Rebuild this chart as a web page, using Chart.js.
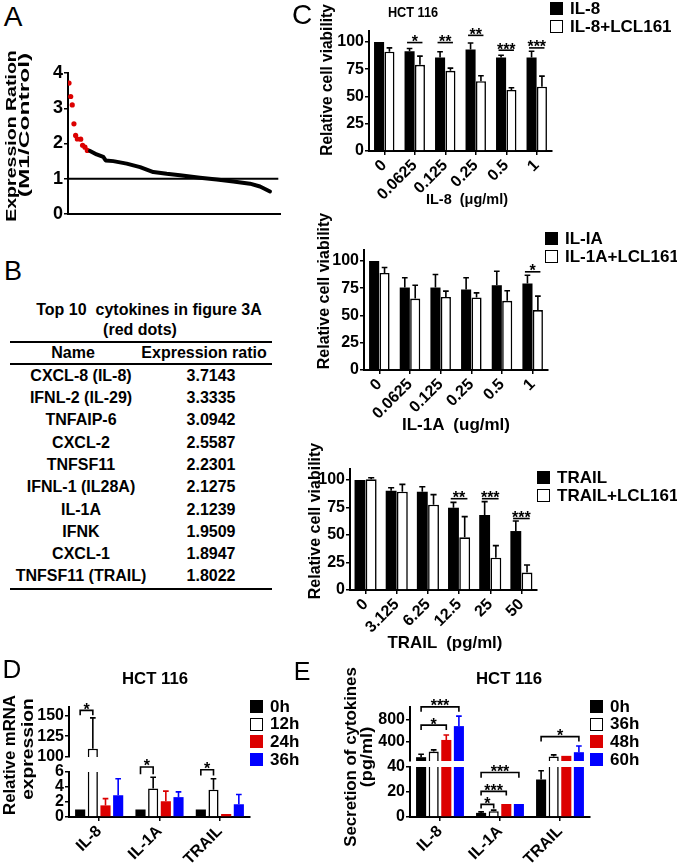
<!DOCTYPE html>
<html>
<head>
<meta charset="utf-8">
<title>Figure 3</title>
<script src="https://cdn.jsdelivr.net/npm/chart.js@4.4.1/dist/chart.umd.min.js"></script>
<style>
  html, body { margin: 0; padding: 0; background: #fff; }
  body { position: relative; width: 677px; height: 866px; overflow: hidden;
         font-family: "Liberation Sans", Arial, sans-serif; font-weight: bold; color: #000; }
  canvas, .tx, .sq, .rule { position: absolute; }
  .tx { white-space: pre; line-height: 1.15; }
  .sq { width: 13px; height: 13px; box-sizing: border-box; }
  .rule { left: 10px; width: 262px; height: 2px; background: #000; }
</style>
</head>
<body>
<script>
"use strict";

// ---- panel A / B: ranked expression ratios ----
var topNames = ["CXCL-8 (IL-8)", "IFNL-2 (IL-29)", "TNFAIP-6", "CXCL-2", "TNFSF11",
    "IFNL-1 (IL28A)", "IL-1A", "IFNK", "CXCL-1", "TNFSF11 (TRAIL)"];
var topRatios = [3.7143, 3.3335, 3.0942, 2.5587, 2.2301, 2.1275, 2.1239, 1.9509, 1.8947, 1.8022];
var topRanks = [0.6, 1.6, 2.5, 3.5, 4.5, 5.5, 7.5, 8.6, 10, 11.4];
var curveRanks = [13, 16.9, 20.8, 22.2, 26.7, 34.6, 42.5, 46.4, 50.3, 58.2, 66, 77.8, 87.7, 97.5, 107.3, 113.2, 119.1];
var curveRatios = [1.79, 1.69, 1.62, 1.52, 1.5, 1.43, 1.33, 1.26, 1.19, 1.14, 1.1, 1.03, 0.98, 0.92, 0.86, 0.78, 0.64];
var cutoffRatio = 1;
var ratioTicks = [0, 1, 2, 3, 4];

// ---- panel C: cell viability ----
var viabilityTicks = [0, 25, 50, 75, 100];
var il8Doses = ["0", "0.0625", "0.125", "0.25", "0.5", "1"];
var il8Names = ["IL-8", "IL-8+LCL161"];
var il8Alone = [100, 91.5, 85.7, 93, 85.7, 85.7];
var il8AloneErr = [0, 2.5, 5.3, 6, 2.1, 5.8];
var il8Combo = [91, 79, 73.5, 64, 56, 59];
var il8ComboErr = [3.5, 8, 2.5, 5, 2, 9.6];
var il8Sig = [{ cat: 1, y: 99.4, text: "*" }, { cat: 2, y: 99.4, text: "**" }, { cat: 3, y: 106, text: "**" },
    { cat: 4, y: 92.4, text: "***" }, { cat: 5, y: 94.5, text: "***" }];

var il1aDoses = ["0", "0.0625", "0.125", "0.25", "0.5", "1"];
var il1aNames = ["IL-IA", "IL-1A+LCL161"];
var il1aAlone = [100, 75.6, 75.6, 73.8, 77.7, 79.3];
var il1aAloneErr = [0, 8.9, 11.9, 10.7, 12.8, 7.6];
var il1aCombo = [89, 65.5, 67, 66.5, 63.4, 54.9];
var il1aComboErr = [5, 12.2, 5.3, 4.2, 9.2, 12.8];
var il1aSig = [{ cat: 5, y: 90, text: "*" }];

var trailDoses = ["0", "3.125", "6.25", "12.5", "25", "50"];
var trailNames = ["TRAIL", "TRAIL+LCL161"];
var trailAlone = [100, 90.3, 89.4, 74.8, 68.2, 53.6];
var trailAloneErr = [0, 2.7, 4.5, 4.9, 12.1, 9.1];
var trailCombo = [100.6, 89.4, 77.6, 47.9, 29.4, 15.8];
var trailComboErr = [1.4, 6.6, 9.1, 18.8, 10.9, 6.9];
var trailSig = [{ cat: 3, y: 83, text: "**" }, { cat: 4, y: 83, text: "***" }, { cat: 5, y: 65, text: "***" }];

// ---- panel D: mRNA ----
var geneLabels = ["IL-8", "IL-1A", "TRAIL"];
var mrnaTimes = ["0h", "12h", "24h", "36h"];
var mrna0h = [1, 1, 1];
var mrna0hErr = [0, 0, 0];
var mrna12h = [110, 3.8, 3.65];
var mrna12hErr = [37, 1.5, 1.45];
var mrna24h = [1.55, 2.1, 0.4];
var mrna24hErr = [0.9, 1.35, 0];
var mrna36h = [2.9, 2.65, 1.7];
var mrna36hErr = [2.2, 0.7, 1.3];
var mrnaUpperTicks = [100, 125, 150];
var mrnaLowerTicks = [0, 2, 4, 6];
var mrnaSigUpper = [{ cat: 0, from: 0, to: 1, y: 156, leg: 150, text: "*" }];
var mrnaSigLower = [{ cat: 1, from: 0, to: 1, y: 6.67, leg: 5.7, text: "*" },
    { cat: 2, from: 0, to: 1, y: 6.3, leg: 5.55, text: "*" }];

// ---- panel E: secretion ----
var secTimes = ["0h", "36h", "48h", "60h"];
var sec0h = [119, 3.3, 30];
var sec0hErr = [54, 0.8, 7];
var sec36h = [221, 4.7, 131];
var sec36hErr = [30, 0.8, 30];
var sec48h = [430, 10.4, 143];
var sec48hErr = [89, 0, 0];
var sec60h = [680, 10.4, 209];
var sec60hErr = [180, 0, 113];
var secUpperTicks = [400, 800];
var secLowerTicks = [0, 20, 40];
var secSigUpper = [{ cat: 0, from: 0, to: 2, y: 698, leg: 609, text: "*" },
    { cat: 0, from: 0, to: 3, y: 1027, leg: 937, text: "***" },
    { cat: 2, from: 0, to: 3, y: 490, leg: 400, text: "*" }];
var secSigLower = [{ cat: 1, from: 0, to: 1, y: 10.1, leg: 6.8, text: "*" },
    { cat: 1, from: 0, to: 2, y: 20.5, leg: 17.3, text: "***" },
    { cat: 1, from: 0, to: 3, y: 35.6, leg: 31.5, text: "***" }];

var RED = "#dc0000", BLUE = "#0000ff";
var timeColors = ["#000", "#fff", RED, BLUE];
var FONT = '"Liberation Sans", Arial, sans-serif';

Chart.defaults.font.family = FONT;
Chart.defaults.font.weight = "bold";
Chart.defaults.font.size = 16;
Chart.defaults.color = "#000";
Chart.defaults.plugins.legend.display = false;
Chart.defaults.plugins.tooltip.enabled = false;

// text helper: centred (or left-aligned) real text, optionally rotated / stretched to a length
function txt(s, x, y, size, o) {
    o = o || {};
    var d = document.createElement("div");
    d.className = "tx";
    d.textContent = s;
    d.style.fontSize = size + "px";
    if (o.weight) d.style.fontWeight = o.weight;
    document.body.appendChild(d);
    var k = o.len ? o.len / d.offsetWidth : 1;
    d.style.left = x + "px";
    d.style.top = y + "px";
    if (o.left) {
        d.style.transformOrigin = "0 50%";
        d.style.transform = "translate(0,-50%) scaleX(" + k + ")";
    } else {
        d.style.transform = "translate(-50%,-50%)" + (o.rot ? " rotate(-90deg)" : "") + " scaleX(" + k + ")";
    }
}

function legend(names, colors, x, y0, step, size) {
    names.forEach(function (n, i) {
        var s = document.createElement("div");
        s.className = "sq";
        s.style.left = x + "px";
        s.style.top = (y0 + i * step) + "px";
        s.style.background = colors[i];
        if (colors[i] === "#fff") s.style.border = "1.5px solid #000";
        document.body.appendChild(s);
        txt(n, x + 20, y0 + i * step + 6.5, size, { left: true });
    });
}

// error bars (upper side only), clipped to the plot area
var errorBars = {
    id: "errorBars",
    afterDatasetsDraw: function (chart) {
        var ctx = chart.ctx, a = chart.chartArea, y = chart.scales.y;
        ctx.save();
        ctx.beginPath();
        ctx.rect(a.left - 10, a.top, a.right - a.left + 20, a.bottom - a.top);
        ctx.clip();
        ctx.lineWidth = 1.6;
        chart.data.datasets.forEach(function (ds, i) {
            if (!ds.errors) return;
            chart.getDatasetMeta(i).data.forEach(function (bar, j) {
                var e = ds.errors[j];
                if (!e) return;
                var top = y.getPixelForValue(ds.data[j] + e);
                var half = bar.width * 0.28;
                ctx.strokeStyle = ds.errorColor;
                ctx.beginPath();
                ctx.moveTo(bar.x, bar.y);
                ctx.lineTo(bar.x, top);
                ctx.moveTo(bar.x - half, top);
                ctx.lineTo(bar.x + half, top);
                ctx.stroke();
            });
        });
        ctx.restore();
    }
};

// significance lines / brackets with stars
var sigMarks = {
    id: "sigMarks",
    afterDatasetsDraw: function (chart, args, opts) {
        var items = opts.items || [];
        var ctx = chart.ctx, y = chart.scales.y;
        ctx.save();
        ctx.strokeStyle = "#000";
        ctx.fillStyle = "#000";
        ctx.lineWidth = 1.6;
        ctx.font = "bold 16px " + FONT;
        ctx.textAlign = "center";
        ctx.textBaseline = "alphabetic";
        items.forEach(function (it) {
            var from = it.from || 0, to = it.to === undefined ? 1 : it.to;
            var a = chart.getDatasetMeta(from).data[it.cat];
            var b = chart.getDatasetMeta(to).data[it.cat];
            var pad = it.leg === undefined ? 0.25 : 0;
            var x0 = a.x - pad * a.width, x1 = b.x + pad * b.width;
            var yt = y.getPixelForValue(it.y);
            ctx.beginPath();
            if (it.leg !== undefined) {
                var yl = y.getPixelForValue(it.leg);
                ctx.moveTo(x0, yl);
                ctx.lineTo(x0, yt);
                ctx.lineTo(x1, yt);
                ctx.lineTo(x1, yl);
            } else {
                ctx.moveTo(x0, yt);
                ctx.lineTo(x1, yt);
            }
            ctx.stroke();
            ctx.fillText(it.text, (x0 + x1) / 2, yt + 4.5);
        });
        ctx.restore();
    }
};

function yAxis(min, max, ticks, size) {
    return {
        min: min,
        max: max,
        afterBuildTicks: function (s) { s.ticks = ticks.map(function (v) { return { value: v }; }); },
        ticks: { padding: 1, autoSkip: false, font: { size: size || 16, weight: "bold" }, color: "#000" },
        grid: { drawOnChartArea: false, color: "#000", lineWidth: 1.5, tickLength: 4 },
        border: { color: "#000", width: 2 }
    };
}

function xCat(show) {
    return {
        offset: true,
        display: show,
        ticks: { minRotation: 45, maxRotation: 45, padding: 1, autoSkip: false, color: "#000",
                 font: { size: 16, weight: "bold" } },
        grid: { offset: false, drawOnChartArea: false, color: "#000", lineWidth: 1.5, tickLength: 4 },
        border: { color: "#000", width: 2 }
    };
}

// put a chart on the page so that its plot area lands on `area`
function place(area, yW, xH, config) {
    var P = 24;
    var c = document.createElement("canvas");
    var w = area.r - area.l + yW + 2 * P;
    var h = area.b - area.t + xH + 2 * P;
    c.width = w;
    c.height = h;
    c.style.left = (area.l - yW - P) + "px";
    c.style.top = (area.t - P) + "px";
    c.style.width = w + "px";
    c.style.height = h + "px";
    document.body.appendChild(c);
    var o = config.options;
    o.responsive = false;
    o.maintainAspectRatio = false;
    o.animation = false;
    o.layout = { padding: P };
    o.scales.y.afterFit = function (s) { s.width = yW; };
    o.scales.x.afterFit = function (s) { s.height = xH; };
    return new Chart(c, config);
}

function barSet(label, data, errors, color, errColor) {
    return {
        label: label,
        data: data,
        errors: errors,
        errorColor: errColor || "#000",
        backgroundColor: color,
        borderColor: "#000",
        borderWidth: color === "#fff" ? 1.6 : 0,
        clip: 0
    };
}

// ---------- panel A ----------
place({ l: 68, r: 280, t: 73, b: 214 }, 40, 0, {
    type: "scatter",
    data: {
        datasets: [
            {
                data: curveRanks.map(function (r, i) { return { x: r, y: curveRatios[i] }; }),
                showLine: true, borderColor: "#000", borderWidth: 4, pointRadius: 0,
                borderCapStyle: "round", borderJoinStyle: "round"
            },
            {
                data: topRanks.map(function (r, i) { return { x: r, y: topRatios[i] }; }),
                pointRadius: 2.6, pointBackgroundColor: RED, pointBorderWidth: 0
            },
            {
                data: [{ x: 0, y: cutoffRatio }, { x: 124, y: cutoffRatio }],
                showLine: true, borderColor: "#000", borderWidth: 1.8, pointRadius: 0
            }
        ]
    },
    options: {
        scales: {
            x: { type: "linear", min: 0, max: 125, ticks: { display: false },
                 grid: { display: false }, border: { color: "#000", width: 2 } },
            y: yAxis(0, 4, ratioTicks, 18)
        }
    }
});

// ---------- panel C ----------
function viabilityChart(area, doses, alone, aloneErr, combo, comboErr, sig, pct) {
    place(area, 45, 60, {
        type: "bar",
        data: {
            labels: doses,
            datasets: [barSet("alone", alone, aloneErr, "#000"), barSet("combo", combo, comboErr, "#fff")]
        },
        options: {
            datasets: { bar: { categoryPercentage: pct, barPercentage: 0.97 } },
            plugins: { sigMarks: { items: sig } },
            scales: { x: xCat(true), y: yAxis(0, 110, viabilityTicks) }
        },
        plugins: [errorBars, sigMarks]
    });
}
viabilityChart({ l: 369, r: 552, t: 31, b: 151 }, il8Doses, il8Alone, il8AloneErr, il8Combo, il8ComboErr, il8Sig, 0.68);
viabilityChart({ l: 364, r: 548, t: 250, b: 370 }, il1aDoses, il1aAlone, il1aAloneErr, il1aCombo, il1aComboErr, il1aSig, 0.68);
viabilityChart({ l: 350, r: 537, t: 469, b: 590 }, trailDoses, trailAlone, trailAloneErr, trailCombo, trailComboErr, trailSig, 0.72);

// ---------- panels D and E: broken y axis = two stacked charts ----------
function timeSets(series, errs) {
    return series.map(function (s, i) {
        return barSet(i, s, errs[i], timeColors[i], i === 2 ? RED : i === 3 ? BLUE : "#000");
    });
}
function brokenChart(upArea, lowArea, upRange, lowRange, upTicks, lowTicks, series, errs, sigUp, sigLow) {
    [[upArea, upRange, upTicks, sigUp, false], [lowArea, lowRange, lowTicks, sigLow, true]].forEach(function (p) {
        place(p[0], 45, p[4] ? 60 : 0, {
            type: "bar",
            data: { labels: geneLabels, datasets: timeSets(series, errs) },
            options: {
                datasets: { bar: { categoryPercentage: 0.84, barPercentage: 0.8 } },
                plugins: { sigMarks: { items: p[3] } },
                scales: { x: xCat(p[4]), y: yAxis(p[1][0], p[1][1], p[2]) }
            },
            plugins: [errorBars, sigMarks]
        });
    });
}
brokenChart({ l: 69, r: 250, t: 707, b: 757 }, { l: 69, r: 250, t: 772, b: 817 }, [100, 160], [0, 6],
    mrnaUpperTicks, mrnaLowerTicks, [mrna0h, mrna12h, mrna24h, mrna36h],
    [mrna0hErr, mrna12hErr, mrna24hErr, mrna36hErr], mrnaSigUpper, mrnaSigLower);
brokenChart({ l: 410, r: 590, t: 707, b: 761 }, { l: 410, r: 590, t: 767, b: 817 }, [50, 1025], [0, 40],
    secUpperTicks, secLowerTicks, [sec0h, sec36h, sec48h, sec60h],
    [sec0hErr, sec36hErr, sec48hErr, sec60hErr], secSigUpper, secSigLower);

// ---------- text ----------
txt("A", 13, 17, 28, { weight: "normal" });
txt("B", 13, 272, 27, { weight: "normal" });
txt("C", 302, 15, 28, { weight: "normal" });
txt("D", 12, 670, 26, { weight: "normal" });
txt("E", 302, 671, 25, { weight: "normal" });

txt("Expression Ration", 11, 136, 15, { rot: true, len: 172 });
txt("(M1/Control)", 24, 125, 15, { rot: true, len: 144 });

// table B
txt("Top 10  cytokines in figure 3A", 149, 310, 16);
txt("(red dots)", 140, 330, 16);
[341, 363, 588].forEach(function (y) {
    var r = document.createElement("div");
    r.className = "rule";
    r.style.top = y + "px";
    document.body.appendChild(r);
});
txt("Name", 73, 353, 16);
txt("Expression ratio", 204, 353, 16);
topNames.forEach(function (n, i) {
    var y = 375.7 + i * 22.3;
    txt(n, 81, y, 16);
    txt(topRatios[i].toFixed(4), 211, y, 16);
});

// panel C labels
txt("HCT 116", 413, 12, 15, { len: 50 });
legend(il8Names, ["#000", "#fff"], 550, 2, 18, 17);
legend(il1aNames, ["#000", "#fff"], 545, 232, 18, 17);
legend(trailNames, ["#000", "#fff"], 537, 471, 18, 17);
txt("Relative cell viability", 327, 80, 16, { rot: true, len: 152 });
txt("Relative cell viability", 324, 291, 16, { rot: true, len: 157 });
txt("Relative cell viability", 315, 521, 16, { rot: true, len: 157 });
txt("IL-8  (\u03bcg/ml)", 467, 199, 15, { len: 82 });
txt("IL-1A  (ug/ml)", 456, 425, 17, { len: 108 });
txt("TRAIL  (pg/ml)", 445, 643, 17, { len: 115 });

// panel D / E labels
txt("HCT 116", 155, 679, 17, { len: 66 });
txt("HCT 116", 509, 679, 17, { len: 66 });
legend(mrnaTimes, timeColors, 250, 700, 17.7, 17);
legend(secTimes, timeColors, 590, 700, 17.7, 17);
txt("Relative mRNA", 10, 755, 17, { rot: true, len: 120 });
txt("expression", 28, 749, 17, { rot: true, len: 102 });
txt("Secretion of cytokines", 351, 757, 16, { rot: true, len: 180 });
txt("(pg/ml)", 367, 757, 16, { rot: true, len: 60 });
</script>
</body>
</html>
